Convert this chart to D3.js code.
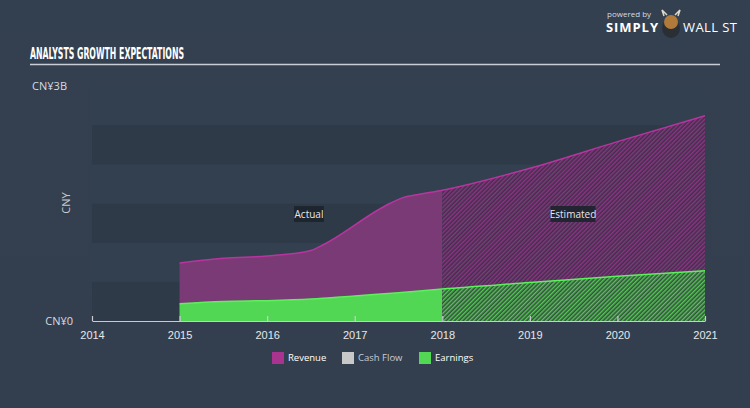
<!DOCTYPE html>
<html><head><meta charset="utf-8">
<script src="https://cdn.jsdelivr.net/npm/d3@7"></script>
<style>
html,body{margin:0;padding:0;background:#333f4e;}
svg{display:block;font-family:"Open Sans",sans-serif;}
</style></head><body>
<svg id="c" width="750" height="408"></svg>
<script>
const years = [2014,2015,2016,2017,2018,2019,2020,2021];
const revenueX = [2015,2015.5,2016,2016.5,2016.6,2017.4,2017.55,2017.75,2018,2019,2020,2021];
const revenueY = [0.74,0.80,0.83,0.90,0.95,1.50,1.575,1.62,1.67,1.95,2.29,2.62];
const earningsX = [2015,2015.5,2016,2016.5,2017,2017.5,2018,2019,2020,2021];
const earningsY = [0.22,0.25,0.26,0.28,0.32,0.36,0.41,0.49,0.57,0.64];
const yTicks = [0,3];
const yTickLabels = ["CN¥0","CN¥3B"];
const bands = [0,0.5,1,1.5,2,2.5];
const legendItems = ["Revenue","Cash Flow","Earnings"];
const legendColors = ["#a8348f","#c8c8c8","#52d855"];
const splitYear = 2018;

const svg = d3.select("#c");
const W=750,H=408;
const defs = svg.append("defs");
const bg = defs.append("linearGradient").attr("id","bg").attr("x1",0).attr("y1",0).attr("x2",0).attr("y2",1);
bg.append("stop").attr("offset","0").attr("stop-color","#334050");
bg.append("stop").attr("offset","1").attr("stop-color","#333f4e");
svg.append("rect").attr("width",W).attr("height",H).attr("fill","url(#bg)");

function hatch(id, base, line){
  const p = defs.append("pattern").attr("id",id).attr("patternUnits","userSpaceOnUse")
    .attr("width",3).attr("height",3).attr("patternTransform","rotate(45)");
  p.append("rect").attr("width",3).attr("height",3).attr("fill",base);
  p.append("rect").attr("width",1.4).attr("height",3).attr("fill",line);
}
hatch("hRev","#40304a","#8a3684");
hatch("hEarn","#34503f","#58c658");

const x = d3.scaleLinear().domain([2014,2021]).range([92,705]);
const y = d3.scaleLinear().domain([0,3]).range([321,86]);

// bands
svg.append("g").selectAll("rect").data(bands).join("rect")
  .attr("x",x(2014)).attr("width",x(2021)-x(2014))
  .attr("y",d=>y(d+0.5)).attr("height",d=>y(d)-y(d+0.5))
  .attr("fill",(d,i)=> i%2===0 ? "#2e3a48" : "#334050");

const rev = revenueX.map((v,i)=>({x:v,y:revenueY[i]}));
const earn = earningsX.map((v,i)=>({x:v,y:earningsY[i]}));

const area = d3.area().x(d=>x(d.x)).y0(y(0)).y1(d=>y(d.y)).curve(d3.curveMonotoneX);
const line = d3.line().x(d=>x(d.x)).y(d=>y(d.y)).curve(d3.curveMonotoneX);

defs.append("clipPath").attr("id","cA").append("rect").attr("x",0).attr("y",0).attr("width",x(splitYear)).attr("height",H);
defs.append("clipPath").attr("id","cE").append("rect").attr("x",x(splitYear)).attr("y",0).attr("width",W).attr("height",H);

const gA = svg.append("g").attr("clip-path","url(#cA)");
const gE = svg.append("g").attr("clip-path","url(#cE)");
gA.append("path").datum(rev).attr("d",area).attr("fill","#7a3a76");
gE.append("path").datum(rev).attr("d",area).attr("fill","url(#hRev)");
svg.append("path").datum(rev).attr("d",line).attr("fill","none").attr("stroke","#b8349f").attr("stroke-width",1.5);
gA.append("path").datum(earn).attr("d",area).attr("fill","#52d755");
gE.append("path").datum(earn).attr("d",area).attr("fill","url(#hEarn)");
svg.append("path").datum(earn).attr("d",line).attr("fill","none").attr("stroke","#5cf05c").attr("stroke-width",1.5);

// x axis
const xAxis = d3.axisBottom(x).tickValues(years).tickFormat(d3.format("d")).tickSize(5).tickSizeOuter(0);
const ax = svg.append("g").attr("transform",`translate(0,${y(0)})`).call(xAxis);
ax.select(".domain").attr("stroke","#c8ccd2").attr("stroke-width",1.2);
ax.selectAll(".tick line").attr("stroke","#c8ccd2").attr("y1",-5).attr("y2",0).attr("stroke-width",1.2);
ax.selectAll(".tick text").attr("fill","#e6e8eb").attr("font-size",11).attr("dy","0.9em");

// y labels
svg.append("g").selectAll("text").data(yTicks).join("text")
  .attr("x",(d,i)=> i===0 ? 73 : 67).attr("y",d=>y(d)).attr("dy","0.35em")
  .attr("text-anchor","end").attr("fill","#d8dbe0").attr("font-size",11)
  .text((d,i)=>yTickLabels[i]);
svg.append("text").attr("transform","translate(70,203) rotate(-90)").attr("text-anchor","middle")
  .attr("fill","#c8ccd2").attr("font-size",11).text("CNY");

// title
svg.append("text").attr("x",30).attr("y",59).attr("fill","#ffffff")
  .attr("font-family","'DejaVu Sans Condensed','Liberation Sans Narrow',sans-serif").attr("font-weight","bold")
  .attr("font-size",16).attr("textLength",154).attr("lengthAdjust","spacingAndGlyphs")
  .text("ANALYSTS GROWTH EXPECTATIONS");
svg.append("line").attr("x1",30).attr("x2",720).attr("y1",64.5).attr("y2",64.5).attr("stroke","#c9ced6").attr("stroke-width",1.5);

// annotation boxes
function tag(cx, txt, w){
  const g = svg.append("g");
  g.append("rect").attr("x",cx-w/2).attr("y",206).attr("width",w).attr("height",16).attr("fill","#1c232c").attr("opacity",0.9);
  g.append("text").attr("x",cx).attr("y",214).attr("dy","0.35em").attr("text-anchor","middle")
    .attr("fill","#e8e8ea").attr("font-size",10).text(txt);
}
tag(309,"Actual",30);
tag(573,"Estimated",45);

// legend
const lx = [272,342,419];
const lg = svg.append("g").selectAll("g").data(legendItems).join("g").attr("transform",(d,i)=>`translate(${lx[i]},352)`);
lg.append("rect").attr("width",12).attr("height",12).attr("fill",(d,i)=>legendColors[i]);
lg.append("text").attr("x",16).attr("y",6).attr("dy","0.35em").attr("fill",(d,i)=> i===1?"#c8ccd2":"#ffffff").attr("font-size",9.5).text(d=>d);

// logo
svg.append("text").attr("x",607).attr("y",17).attr("fill","#d8dbe0").attr("font-size",8).text("powered by");
svg.append("text").attr("x",606).attr("y",32).attr("fill","#ffffff").attr("font-size",13).attr("font-weight","bold").attr("textLength",52).text("SIMPLY");
const lo = svg.append("g").attr("transform","translate(671,22)");
lo.append("ellipse").attr("rx",9).attr("ry",10).attr("cy",6).attr("fill","#2a2f36");
lo.append("circle").attr("r",7).attr("fill","#b07a3a");
lo.append("path").attr("d","M-7,-6 L-9,-12 L-4,-7 M7,-6 L9,-12 L4,-7").attr("stroke","#e0d8c8").attr("stroke-width",1.5).attr("fill","none");
svg.append("text").attr("x",683).attr("y",32).attr("fill","#ffffff").attr("font-size",13).attr("textLength",54).text("WALL ST");
</script>
</body></html>
